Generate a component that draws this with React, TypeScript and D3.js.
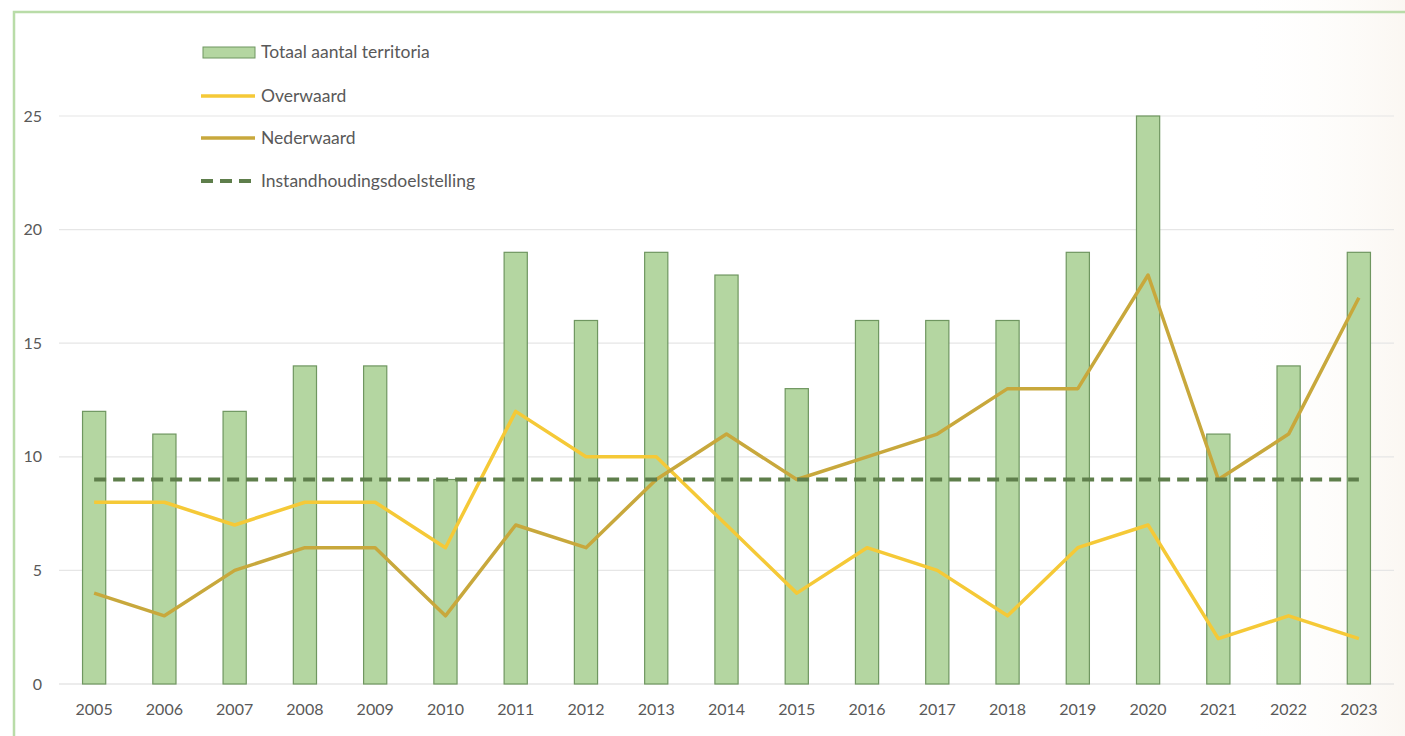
import React from "react";
import * as d3 from "d3";

const years = ["2005","2006","2007","2008","2009","2010","2011","2012","2013","2014","2015","2016","2017","2018","2019","2020","2021","2022","2023"];
const totaal = [12, 11, 12, 14, 14, 9, 19, 16, 19, 18, 13, 16, 16, 16, 19, 25, 11, 14, 19];
const overwaard = [8, 8, 7, 8, 8, 6, 12, 10, 10, 7, 4, 6, 5, 3, 6, 7, 2, 3, 2];
const nederwaard = [4, 3, 5, 6, 6, 3, 7, 6, 9, 11, 9, 10, 11, 13, 13, 18, 9, 11, 17];
const doel = [9, 9, 9, 9, 9, 9, 9, 9, 9, 9, 9, 9, 9, 9, 9, 9, 9, 9, 9];
const yTicks = [0, 5, 10, 15, 20, 25];
const legendItems = ["Totaal aantal territoria", "Overwaard", "Nederwaard", "Instandhoudingsdoelstelling"];

const W = 1405, H = 736;
const FONT = "Lato, 'Open Sans', sans-serif";
const TXT = "#595959";

export default function App() {
  const x = d3.scaleBand().domain(years).range([59, 1394]).paddingInner(0.67).paddingOuter(0.335);
  const y = d3.scaleLinear().domain([0, 25]).range([684, 116]);
  const cx = (i: number) => (x(years[i]) as number) + x.bandwidth() / 2;
  const line = d3.line<number>().x((_, i) => cx(i)).y(d => y(d));
  const legendY = [52, 96, 138, 181];

  return (
    <svg width={W} height={H} style={{ position: "absolute", left: 0, top: 0, background: "#fff" }} fontFamily={FONT}>
      <defs>
        <linearGradient id="bgfade" x1="0" x2="1" y1="0" y2="0">
          <stop offset="0" stopColor="#fdfbf8" stopOpacity="0" />
          <stop offset="1" stopColor="#f8f2ea" stopOpacity="0.6" />
        </linearGradient>
      </defs>
      <rect x={1250} y={0} width={155} height={H} fill="url(#bgfade)" />
      {/* frame */}
      <path d={`M14,${H} L14,12 L${W},12`} fill="none" stroke="#b9dca8" strokeWidth={2.5} />
      {/* gridlines */}
      {yTicks.map(t => (
        <g key={t}>
          <line x1={59} x2={1394} y1={y(t)} y2={y(t)} stroke={t === 0 ? "#d9d9d9" : "#e6e6e6"} strokeWidth={1.2} />
          <text x={42} y={y(t)} dy="0.35em" textAnchor="end" fontSize={16} fill={TXT}>{t}</text>
        </g>
      ))}
      {/* bars */}
      {totaal.map((v, i) => (
        <rect key={years[i]} x={x(years[i])} y={y(v)} width={x.bandwidth()} height={y(0) - y(v)}
          fill="#b4d6a1" stroke="#6f9660" strokeWidth={1.2} />
      ))}
      {/* x labels */}
      {years.map((yr, i) => (
        <text key={yr} x={cx(i)} y={709} dy="0.35em" textAnchor="middle" fontSize={16} fill={TXT}>{yr}</text>
      ))}
      {/* lines */}
      <path d={line(overwaard) as string} fill="none" stroke="#f5c937" strokeWidth={3.5} strokeLinejoin="round" />
      <path d={line(nederwaard) as string} fill="none" stroke="#c8a83c" strokeWidth={3.5} strokeLinejoin="round" />
      <path d={line(doel) as string} fill="none" stroke="#5e7e4b" strokeWidth={4} strokeDasharray="12 7" />
      {/* legend */}
      <g>
        <rect x={203} y={47} width={52} height={11} fill="#b4d6a1" stroke="#6f9660" strokeWidth={1} />
        <line x1={201} x2={255} y1={legendY[1]} y2={legendY[1]} stroke="#f5c937" strokeWidth={3.5} />
        <line x1={201} x2={255} y1={legendY[2]} y2={legendY[2]} stroke="#c8a83c" strokeWidth={3.5} />
        <line x1={201} x2={255} y1={legendY[3]} y2={legendY[3]} stroke="#5e7e4b" strokeWidth={4} strokeDasharray="12 7" />
        {legendItems.map((t, i) => (
          <text key={t} x={261} y={legendY[i]} dy="0.35em" fontSize={17.5} fill={TXT}>{t}</text>
        ))}
      </g>
    </svg>
  );
}
